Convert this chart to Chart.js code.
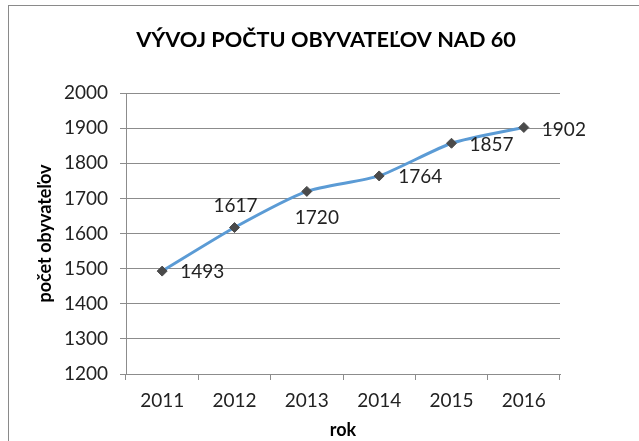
<!DOCTYPE html>
<html>
<head>
<meta charset="utf-8">
<script src="https://cdn.jsdelivr.net/npm/chart.js@4"></script>
<style>
  html, body { margin: 0; padding: 0; background: #fff; overflow: hidden; }
  #wrap { position: relative; width: 639px; height: 441px; }
  /* ramček okolo grafu (orezaný obrázok, vidno len hornú a ľavú hranu) */
  #ramcek { position: absolute; left: 8px; top: 5px; width: 700px; height: 500px;
            border-left: 1px solid #8a8a8a; border-top: 1px solid #8a8a8a; }
  #graf { position: absolute; left: 0; top: 0; }
</style>
</head>
<body>
<div id="wrap">
  <div id="ramcek"></div>
  <canvas id="graf" width="639" height="441"></canvas>
</div>
<script>
/* Dáta grafu */
const roky = ['2011', '2012', '2013', '2014', '2015', '2016'];
const pocetObyvatelov = [1493, 1617, 1720, 1764, 1857, 1902];
const osY = { min: 1200, max: 2000, krok: 100 };

/* Posun popiskov od bodu (len vzhľad) */
const posunPopiskov = [
  { dx: 18, dy: 1, align: 'left' },
  { dx: -21, dy: -22, align: 'left' },
  { dx: -12, dy: 26, align: 'left' },
  { dx: 19, dy: 1, align: 'left' },
  { dx: 18, dy: 2, align: 'left' },
  { dx: 18, dy: 2, align: 'left' }
];

const pismo = 'Lato, "Open Sans", sans-serif';
const sivaMriezka = '#8c8c8c';

/* Plugin na vykreslenie hodnôt pri bodoch */
const popiskyHodnot = {
  id: 'popiskyHodnot',
  afterDatasetsDraw(chart) {
    const ctx = chart.ctx;
    const meta = chart.getDatasetMeta(0);
    ctx.save();
    ctx.font = '19px ' + pismo;
    ctx.fillStyle = '#222';
    ctx.textBaseline = 'middle';
    meta.data.forEach((bod, i) => {
      const p = posunPopiskov[i];
      ctx.textAlign = p.align;
      ctx.fillText(String(pocetObyvatelov[i]), bod.x + p.dx, bod.y + p.dy);
    });
    ctx.restore();
  }
};

var ctx = document.getElementById('graf');
var graf = new Chart(ctx, {
  type: 'line',
  data: {
    labels: roky,
    datasets: [{
      label: 'počet obyvateľov',
      data: pocetObyvatelov,
      borderColor: '#5b9bd5',
      borderWidth: 3,
      tension: 0.2,
      fill: false,
      pointStyle: 'rectRot',
      pointRadius: 5,
      pointBackgroundColor: '#4a4a4a',
      pointBorderColor: '#4a4a4a',
      pointBorderWidth: 1
    }]
  },
  options: {
    responsive: false,
    animation: false,
    layout: { padding: { left: 13, right: 0, top: 0, bottom: 0 } },
    plugins: {
      legend: { display: false },
      tooltip: { enabled: false },
      title: {
        display: true,
        text: 'VÝVOJ POČTU OBYVATEĽOV NAD 60',
        color: '#000',
        font: { family: pismo, size: 21.7, weight: 'bold' },
        padding: { top: 27, bottom: 40 }
      }
    },
    scales: {
      x: {
        offset: true,
        grid: { display: true, drawOnChartArea: false, offset: true, tickLength: 6, color: sivaMriezka },
        border: { color: sivaMriezka },
        ticks: { color: '#222', padding: 9, font: { family: pismo, size: 19 } },
        title: {
          display: true, text: 'rok', color: '#000',
          font: { family: pismo, size: 18, weight: 'bold' },
          padding: { top: 0, bottom: 0 }
        },
        afterFit(scale) { scale.height = 67; }
      },
      y: {
        min: osY.min,
        max: osY.max,
        grid: { color: sivaMriezka, tickLength: 6 },
        border: { color: sivaMriezka },
        ticks: {
          stepSize: osY.krok, color: '#222', padding: 12, font: { family: pismo, size: 19 },
          callback: v => String(v)
        },
        title: {
          display: true, text: 'počet obyvateľov', color: '#000',
          font: { family: pismo, size: 18, weight: 'bold' },
          padding: { top: 21, bottom: 0 }
        },
        afterFit(scale) { scale.width = 113; }
      },
      /* prázdna pravá os len kvôli voľnému miestu vpravo */
      y2: {
        position: 'right',
        min: osY.min,
        max: osY.max,
        grid: { display: false, drawTicks: false },
        border: { display: false },
        ticks: { display: false },
        afterFit(scale) { scale.width = 79; }
      }
    }
  },
  plugins: [popiskyHodnot]
});
</script>
</body>
</html>
